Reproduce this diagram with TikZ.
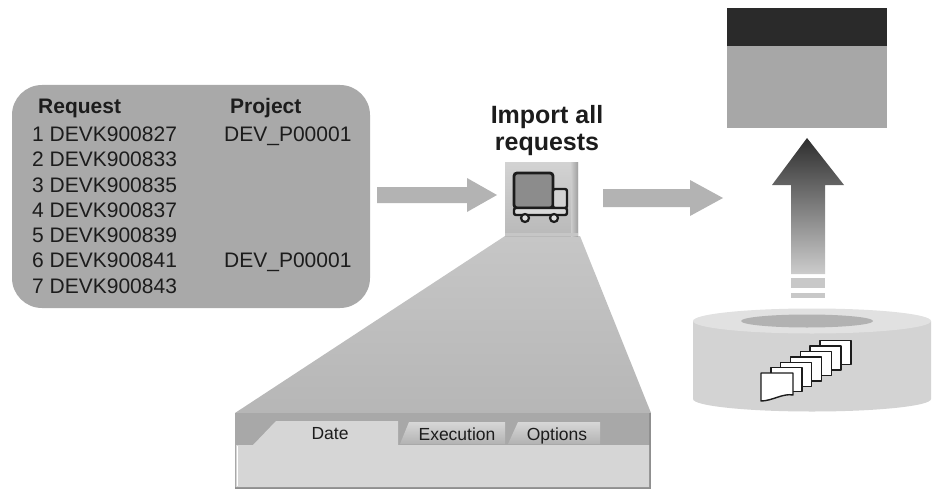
\documentclass[tikz,border=0pt]{standalone}
\usepackage{fontspec}
\setmainfont{Liberation Sans}
\definecolor{boxgray}{HTML}{A9A9A9}
\definecolor{arrowgray}{HTML}{B3B3B3}
\definecolor{fangray}{HTML}{C6C6C6}
\definecolor{bandgray}{HTML}{A8A8A8}
\definecolor{panelgray}{HTML}{D6D6D6}
\definecolor{tabgray}{HTML}{C6C6C6}
\definecolor{inkdark}{HTML}{1C1C1C}
\definecolor{screendark}{HTML}{2A2A2A}
\definecolor{screengray}{HTML}{A7A7A7}
\definecolor{disktop}{HTML}{E1E1E1}
\definecolor{diskside}{HTML}{D3D3D3}
\definecolor{diskhole}{HTML}{B2B2B2}
\definecolor{stripegray}{HTML}{C8C8C8}
\tikzset{
  listtext/.style={anchor=base west, inner sep=0pt, font=\fontsize{21}{25}\selectfont, text=inkdark},
  listhead/.style={listtext, font=\fontsize{21}{25}\selectfont\bfseries},
  tabtext/.style={anchor=base, inner sep=0pt, font=\fontsize{17.5}{20}\selectfont, text=inkdark},
  flatarrow/.style={fill=arrowgray, draw=none},
  page/.style={fill=white, draw=inkdark, line width=1.4pt, line join=round},
}
\begin{document}
\begin{tikzpicture}[x=1pt,y=-1pt]
\useasboundingbox (0,0) rectangle (933,489);

% request list box
\fill[boxgray, rounded corners=30pt] (12,85) rectangle (370,308);
\node[listhead] (hreq) at (38,113.5) {Request};
\node[listhead] (hproj) at (230,113.5) {Project};
\foreach \i/\r in {1/827,2/833,3/835,4/837,5/839,6/841,7/843}{
  \node[listtext] (req\i) at (32,{141.5+25.25*(\i-1)}) {\i\ DEVK900\r};
}
\node[listtext] (proj1) at (224,141.5) {DEV\_P00001};
\node[listtext] (proj6) at (224,267.75) {DEV\_P00001};

% arrow from the list to the import button
\fill[flatarrow] (377,187) -- (467,187) -- (467,178) -- (497,195) -- (467,212) -- (467,203) -- (377,203) -- cycle;

% arrow from the import button to the target system
\fill[flatarrow] (603,189) -- (690,189) -- (690,180) -- (723,198) -- (690,216) -- (690,207) -- (603,207) -- cycle;

% fan from the button down to the settings dialog
\shade[top color=fangray, bottom color=fangray!92!black] (505,236) -- (580,236) -- (651,413) -- (235,413) -- cycle;

% settings dialog with tabs
\fill[bandgray] (235,413) rectangle (651,489);
\fill[bandgray!85!black] (235,487) rectangle (651,489);
\fill[bandgray!85!black] (649,413) rectangle (651,489);
\shade[top color=tabgray!70!white, bottom color=tabgray!90!black] (400,444) -- (409,422) -- (505,422) -- (505,444) -- cycle;
\shade[top color=tabgray!70!white, bottom color=tabgray!90!black] (508,444) -- (518,422) -- (600,422) -- (600,444) -- cycle;
\fill[panelgray] (236,445) -- (253,445) -- (276,421) -- (398,421) -- (398,445) -- (649,445) -- (649,487) -- (236,487) -- cycle;
\draw[white, line width=0.8pt] (237,446) -- (237,486);
\node[tabtext] (tdate) at (330,439) {Date};
\node[tabtext] (texec) at (457,440) {Execution};
\node[tabtext] (topt) at (557,440) {Options};

% import button with truck icon
\shade[top color=gray!35, bottom color=gray!55] (505,163) rectangle (578,236);
\shade[left color=gray!40, right color=gray!75] (571,163) rectangle (578,236);
\fill[gray!45] (505,233) rectangle (578,236);
\draw[inkdark, line width=2.8pt, fill=gray!90!white, rounded corners=3pt] (514,173) rectangle (553,208);
\draw[inkdark, line width=2.4pt, fill=gray!35, rounded corners=2pt] (553,189) rectangle (567,208);
\draw[inkdark, line width=2.4pt, fill=gray!30, rounded corners=2pt] (514,208) rectangle (567,215);
\draw[inkdark, line width=2.2pt, fill=gray!25] (525,218) circle[radius=4];
\draw[inkdark, line width=2.2pt, fill=gray!25] (554,218) circle[radius=4];
\node[anchor=base, inner sep=0pt, font=\fontsize{25}{28}\selectfont\bfseries, text=inkdark] (imp1) at (547,123.5) {Import all};
\node[anchor=base, inner sep=0pt, font=\fontsize{25}{28}\selectfont\bfseries, text=inkdark] (imp2) at (547,151) {requests};

% target system window
\fill[screengray] (727,46) rectangle (887,128);
\fill[screendark] (727,8) rectangle (887,46);

% upward arrow from the storage to the target system
\shade[top color=black!82, bottom color=black!20] (807,138) -- (844,185) -- (825,185) -- (825,274) -- (791,274) -- (791,185) -- (772,185) -- cycle;
\fill[stripegray] (791,278) rectangle (825,288);
\fill[stripegray] (791,293) rectangle (825,298);

% storage disk
\fill[diskside] (693,321) -- (693,399) arc[start angle=180, end angle=0, x radius=119, y radius=12.5] -- (931,321) -- cycle;
\fill[disktop] (812,321) ellipse[x radius=119, y radius=12.5];
\fill[diskhole] (807,321) ellipse[x radius=66, y radius=6.5];

% stack of transport files on the disk
\foreach \k in {6,5,...,1}{
  \draw[page] ({761+9.8*\k},{373-5.4*\k}) rectangle ++(31,24);
}
\draw[page] (761,373) -- (793,373) -- (793,395) .. controls (783,393) and (772,401) .. (761,401) -- cycle;

\end{tikzpicture}
\end{document}
